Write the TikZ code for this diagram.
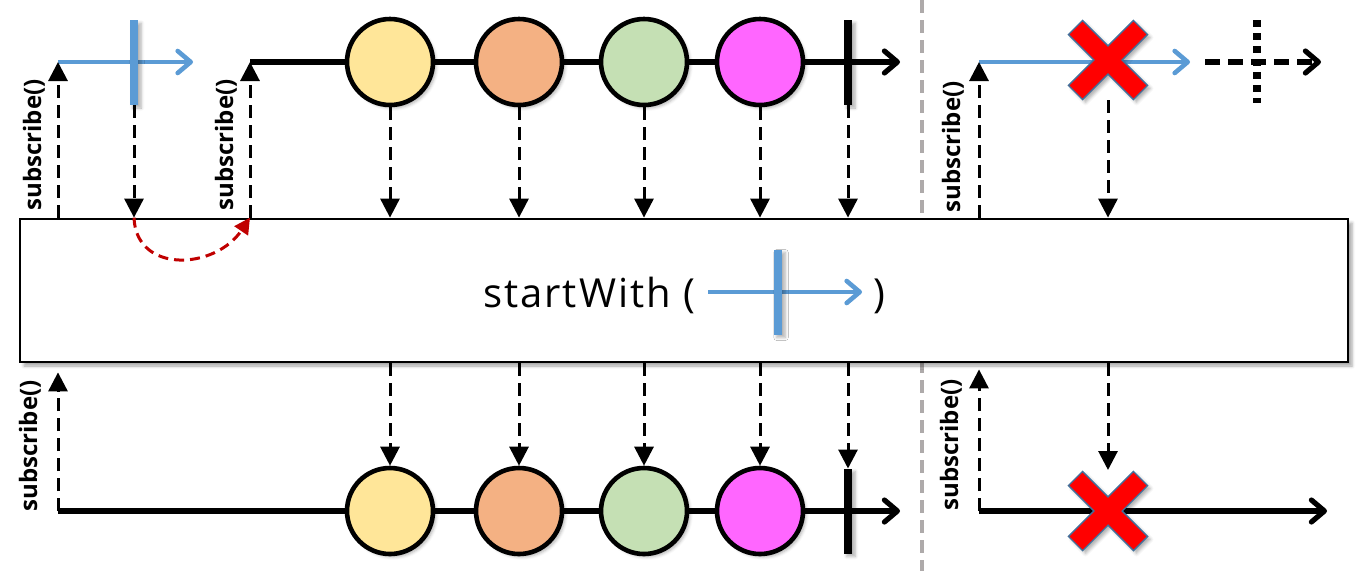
\documentclass[tikz,border=0pt]{standalone}
\usepackage{fontspec}
\setmainfont{Open Sans}
\usetikzlibrary{arrows.meta,shadows.blur,calc}
\definecolor{rxblue}{HTML}{5B9BD5}
\definecolor{mYellow}{HTML}{FFE699}
\definecolor{mOrange}{HTML}{F4B183}
\definecolor{mGreen}{HTML}{C5E0B4}
\definecolor{mPink}{HTML}{FF66FF}
\definecolor{sepgray}{HTML}{AEAAAA}
\definecolor{arcred}{HTML}{C00000}
\definecolor{xred}{HTML}{FF0000}
\definecolor{xedge}{HTML}{41719C}
\begin{document}
\begin{tikzpicture}[x=1pt,y=-1pt,
  timeline/.style={line width=5.2pt,-{Straight Barb[length=13pt,width=22pt,round]}},
  blueline/.style={rxblue,line width=4.6pt,-{Straight Barb[length=13pt,width=22pt,round]}},
  emitarrow/.style={line width=3pt,dash pattern=on 13pt off 7pt,-{Triangle[length=19pt,width=19pt]}},
  softshadow/.style={blur shadow={shadow xshift=3pt,shadow yshift=-3pt,shadow opacity=30,shadow blur radius=3pt}},
  marble/.style={circle,draw,line width=4.6pt,minimum size=86pt,inner sep=0pt,softshadow},
  stopbar/.style={fill=black,minimum width=8.5pt,minimum height=85pt,inner sep=0pt,outer sep=0pt,softshadow},
  bluetick/.style={fill=rxblue,minimum width=8.5pt,minimum height=85pt,inner sep=0pt,outer sep=0pt,softshadow},
  sublabel/.style={rotate=90,font=\bfseries\fontsize{24}{26}\selectfont,inner sep=0pt},
  opbox/.style={draw,line width=2.8pt,fill=white,minimum width=1328pt,minimum height=143pt,inner sep=0pt,
    blur shadow={shadow xshift=4pt,shadow yshift=-4pt,shadow opacity=35,shadow blur radius=3pt}},
  optext/.style={font=\fontsize{40}{44}\selectfont\addfontfeature{LetterSpace=5},anchor=base west,inner sep=0pt},
  errx/.pic={\draw[fill=xred,draw=xedge,line width=1.3pt,softshadow]
    (10,10) -- (46,10) -- (46,-10) -- (10,-10) -- (10,-46) -- (-10,-46) -- (-10,-10) -- (-46,-10)
    -- (-46,10) -- (-10,10) -- (-10,46) -- (10,46) -- cycle;}
]
\useasboundingbox (0,0) rectangle (1364,571);

% separator
\coordinate (sepT) at (922,0);
\coordinate (sepB) at (922,571);
\draw[sepgray,line width=4.8pt,dash pattern=on 13pt off 7pt] (sepT) -- (sepB);

% operator box
\node[opbox] (op) at (684,290.5) {};
\node[optext] (optxt) at (483,307) {startWith (};
\node[optext] (opclose) at (873,307) {)};
\coordinate (pa) at (708,292);
\coordinate (pb) at (862,292);
\draw[blueline] (pa) -- (pb);
\node[bluetick] (ptick) at (778,292) {};

% ---------- top row, left part ----------
\coordinate (s1) at (58,62);
\coordinate (b1e) at (193,62);
\draw[blueline] (s1) -- (b1e);
\node[bluetick] (b1) at (134,62.5) {};
\coordinate (s2) at (250,62);
\coordinate (t2e) at (900,62);
\draw[timeline] (s2) -- (t2e);
\node[marble,fill=mYellow] (y1) at (390,62) {};
\node[marble,fill=mOrange] (o1) at (519,62) {};
\node[marble,fill=mGreen] (g1) at (644,62) {};
\node[marble,fill=mPink] (m1) at (760,62) {};
\node[stopbar] (c1) at (848,62.5) {};

\draw[emitarrow] (s1 |- op.north) -- (s1);
\draw[emitarrow] (b1.south) -- (b1.south |- op.north);
\draw[emitarrow] (s2 |- op.north) -- (s2);
\foreach \n in {y1,o1,g1,m1,c1}
  \draw[emitarrow] (\n.south) -- (\n.south |- op.north);

\draw[arcred,line width=3pt,dash pattern=on 10pt off 6pt,-{Triangle[length=16pt,width=16pt]}]
  (b1.south |- op.north) .. controls (136,274) and (215,270) .. (s2 |- op.north);

\node[sublabel] (l1) at (34,145) {subscribe()};
\node[sublabel] (l2) at (226,145) {subscribe()};

% ---------- top row, right part ----------
\coordinate (s3) at (979,62);
\coordinate (b3e) at (1190,62);
\draw[blueline] (s3) -- (b3e);
\draw[emitarrow] (s3 |- op.north) -- (s3);
\coordinate (xt) at (1108,60);
\coordinate (xtb) at (1108,100);
\draw[emitarrow] (xtb) -- (xtb |- op.north);
\pic[rotate=45] at (xt) {errx};
\coordinate (d1) at (1205,62);
\coordinate (d2) at (1321,62);
\draw[line width=5.2pt,dash pattern=on 15pt off 8pt,-{Straight Barb[length=13pt,width=22pt,round]}] (d1) -- (d2);
\coordinate (dt1) at (1257,20);
\coordinate (dt2) at (1257,103);
\draw[line width=7.5pt,dash pattern=on 7pt off 6pt] (dt1) -- (dt2);
\node[sublabel] (l3) at (953,147) {subscribe()};

% ---------- bottom row, left part ----------
\coordinate (s4) at (58,511);
\coordinate (t4e) at (900,511);
\draw[timeline] (s4) -- (t4e);
\node[marble,fill=mYellow] (y2) at (390,511) {};
\node[marble,fill=mOrange] (o2) at (519,511) {};
\node[marble,fill=mGreen] (g2) at (644,511) {};
\node[marble,fill=mPink] (m2) at (760,511) {};
\node[stopbar] (c2) at (848,511) {};
\draw[emitarrow] (s4) -- ($(op.south -| s4)+(0,9)$);
\foreach \n in {y2,o2,g2,m2,c2}
  \draw[emitarrow] (\n.north |- op.south) -- (\n.north);
\node[sublabel] (l4) at (30,446) {subscribe()};

% ---------- bottom row, right part ----------
\coordinate (s5) at (979,511);
\coordinate (t5e) at (1327,511);
\draw[timeline] (s5) -- (t5e);
\draw[emitarrow] (s5) -- ($(op.south -| s5)+(0,6)$);
\coordinate (xb) at (1108,511);
\coordinate (xbt) at (1108,470);
\draw[emitarrow] (xbt |- op.south) -- (xbt);
\pic[rotate=45] at (xb) {errx};
\node[sublabel] (l5) at (951,445) {subscribe()};
\end{tikzpicture}
\end{document}
